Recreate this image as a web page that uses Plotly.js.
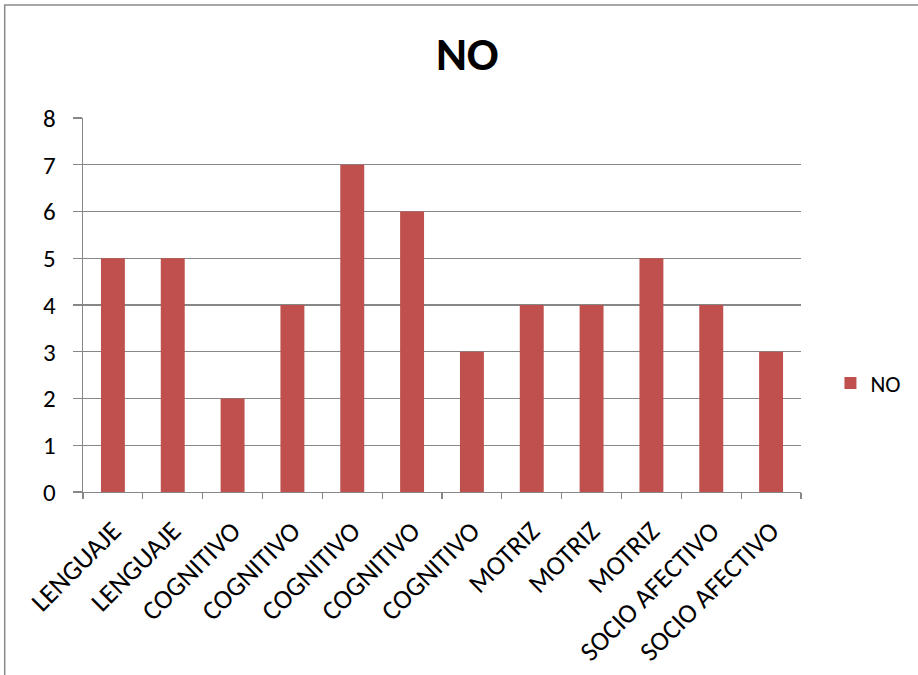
<!DOCTYPE html>
<html>
<head>
<meta charset="utf-8">
<script src="https://cdn.plot.ly/plotly-3.0.1.min.js"></script>
<style>
  html, body { margin: 0; padding: 0; background: #ffffff; }
  #chart { width: 918px; height: 675px; }
</style>
</head>
<body>
<div id="chart"></div>
<script>
// Areas evaluated (one bar per item, names repeat)
const categories = [
  "LENGUAJE", "LENGUAJE",
  "COGNITIVO", "COGNITIVO", "COGNITIVO", "COGNITIVO", "COGNITIVO",
  "MOTRIZ", "MOTRIZ", "MOTRIZ",
  "SOCIO AFECTIVO", "SOCIO AFECTIVO"
];
// Count of "NO" answers per item
const noValues = [5, 5, 2, 4, 7, 6, 3, 4, 4, 5, 4, 3];
const seriesName = "NO";
const yTicks = [0, 1, 2, 3, 4, 5, 6, 7, 8];

const positions = categories.map((_, i) => i);
const boundaries = categories.map((_, i) => i - 0.5).concat([categories.length - 0.5]);

const font = "Carlito, Lato, 'Liberation Sans', sans-serif";
const gridGray = "#878787";

const trace = {
  type: "bar",
  x: positions,
  y: noValues,
  name: seriesName,
  showlegend: true,
  marker: { color: "#C0504D" },
  hoverinfo: "y"
};

const layout = {
  width: 918,
  height: 675,
  margin: { l: 83, r: 115, t: 118, b: 183 },
  paper_bgcolor: "#ffffff",
  plot_bgcolor: "#ffffff",
  font: { family: font, color: "#000000", size: 24 },
  title: {
    text: "<b>NO</b>",
    font: { family: font, size: 47, color: "#000000" },
    x: 0.509, xanchor: "center",
    y: 0.92, yanchor: "middle"
  },
  bargap: 0.6,
  xaxis: {
    type: "linear",
    range: [-0.5, categories.length - 0.5],
    tickmode: "array",
    tickvals: positions,
    ticktext: categories,
    tickangle: -45,
    ticks: "",
    ticklen: 0,
    ticklabelstandoff: 11,
    tickfont: { family: font, size: 27, color: "#000000" },
    showgrid: false,
    zeroline: false,
    showline: true,
    linecolor: gridGray,
    linewidth: 1.3,
    minor: {
      tickmode: "array",
      tickvals: boundaries,
      ticks: "outside",
      ticklen: 6,
      tickcolor: gridGray,
      tickwidth: 1.3,
      showgrid: false
    },
    fixedrange: true
  },
  yaxis: {
    range: [0, 8],
    tickmode: "array",
    tickvals: yTicks,
    ticks: "outside",
    ticklen: 9,
    tickcolor: gridGray,
    tickwidth: 1.3,
    ticklabelstandoff: 12,
    tickfont: { family: font, size: 25, color: "#000000" },
    showgrid: true,
    gridcolor: gridGray,
    gridwidth: 1.3,
    zeroline: false,
    showline: true,
    linecolor: gridGray,
    linewidth: 1.3,
    fixedrange: true
  },
  legend: {
    x: 1.041, xanchor: "left",
    y: 0.291, yanchor: "middle",
    font: { family: font, size: 23, color: "#000000" },
    bgcolor: "rgba(0,0,0,0)",
    itemwidth: 30
  },
  shapes: [
    {
      type: "rect",
      xref: "paper", yref: "paper",
      x0: (4.5 - 83) / 720, x1: 2,
      y0: -1, y1: (492 - 5) / 374,
      line: { color: "#8a8a8a", width: 1.5 },
      fillcolor: "rgba(0,0,0,0)",
      layer: "below"
    }
  ]
};

Plotly.newPlot("chart", [trace], layout, { displayModeBar: false, staticPlot: true });
</script>
</body>
</html>
